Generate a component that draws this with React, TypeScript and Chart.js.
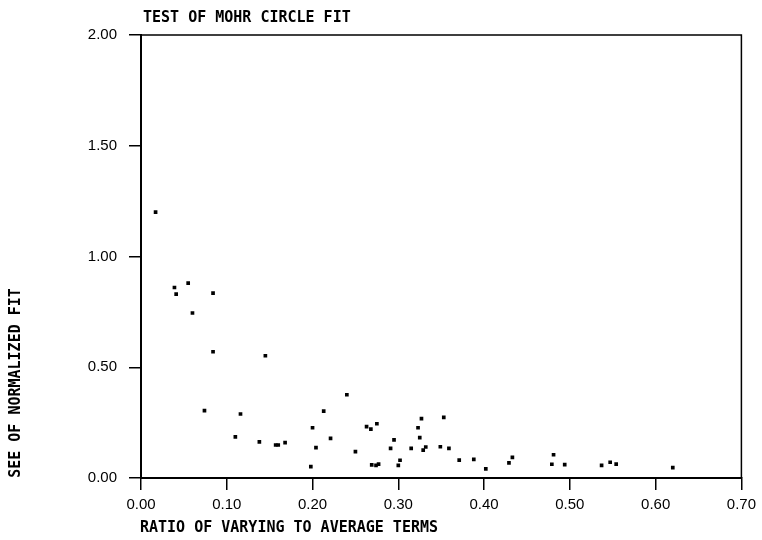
import React, { useEffect, useRef } from "react";
import { Chart, registerables } from "chart.js";

Chart.register(...registerables);

const chartTitle = "TEST OF MOHR CIRCLE FIT";
const xAxisTitle = "RATIO OF VARYING TO AVERAGE TERMS";
const yAxisTitle = "SEE OF NORMALIZED FIT";

const xTickLabels = ["0.00", "0.10", "0.20", "0.30", "0.40", "0.50", "0.60", "0.70"];
const yTickLabels = ["0.00", "0.50", "1.00", "1.50", "2.00"];

const xValues = [
  0.017, 0.039, 0.041, 0.055, 0.084, 0.060, 0.084, 0.145, 0.074, 0.116,
  0.110, 0.138, 0.157, 0.160, 0.168, 0.198, 0.200, 0.204, 0.213, 0.221,
  0.240, 0.250, 0.263, 0.268, 0.275, 0.269, 0.274, 0.277, 0.291, 0.295,
  0.300, 0.302, 0.315, 0.323, 0.327, 0.325, 0.329, 0.332, 0.353, 0.349,
  0.359, 0.371, 0.388, 0.402, 0.429, 0.433, 0.479, 0.481, 0.494, 0.537,
  0.547, 0.554, 0.620,
];
const yValues = [
  1.20, 0.86, 0.83, 0.88, 0.835, 0.745, 0.57, 0.552, 0.304, 0.289,
  0.186, 0.163, 0.149, 0.149, 0.160, 0.051, 0.227, 0.137, 0.302, 0.179,
  0.376, 0.119, 0.232, 0.221, 0.245, 0.059, 0.057, 0.063, 0.134, 0.172,
  0.057, 0.080, 0.134, 0.227, 0.268, 0.182, 0.126, 0.140, 0.274, 0.141,
  0.134, 0.081, 0.084, 0.041, 0.068, 0.093, 0.062, 0.105, 0.060, 0.057,
  0.071, 0.063, 0.047,
];

const titleFont = "bold 15px 'DejaVu Sans Mono'";
const tickFont = { family: "'Liberation Sans', Arial, sans-serif", size: 15 };

const textPlugin = {
  id: "customText",
  afterDraw(chart: any) {
    const { ctx, chartArea } = chart;
    ctx.save();
    ctx.strokeStyle = "#000";
    ctx.lineWidth = 1.5;
    ctx.beginPath();
    ctx.moveTo(chartArea.left, chartArea.top);
    ctx.lineTo(chartArea.right, chartArea.top);
    ctx.lineTo(chartArea.right, chartArea.bottom);
    ctx.stroke();

    ctx.fillStyle = "#000";
    ctx.font = titleFont;
    ctx.textBaseline = "middle";
    ctx.textAlign = "left";
    ctx.fillText(chartTitle, 143, 18.5);
    ctx.fillText(xAxisTitle, 140, 528.5);
    ctx.translate(16, 383);
    ctx.rotate(-Math.PI / 2);
    ctx.textAlign = "center";
    ctx.fillText(yAxisTitle, 0, 0);
    ctx.restore();
  },
};

export default function App() {
  const ref = useRef<HTMLCanvasElement>(null);

  useEffect(() => {
    if (!ref.current) return;
    const points = xValues.map((x, i) => ({ x, y: yValues[i] }));
    const chart = new Chart(ref.current, {
      type: "scatter",
      data: {
        datasets: [
          {
            data: points,
            pointStyle: "rect",
            pointRadius: 2.6,
            pointBorderWidth: 0,
            backgroundColor: "#000",
            borderColor: "#000",
          },
        ],
      },
      options: {
        animation: false,
        responsive: false,
        layout: { padding: { top: 35, right: 13, left: 0, bottom: 0 } },
        plugins: { legend: { display: false }, tooltip: { enabled: false }, title: { display: false } },
        scales: {
          x: {
            type: "linear",
            min: 0,
            max: 0.7,
            afterFit: (s: any) => { s.height = 62; },
            afterBuildTicks: (s: any) => {
              s.ticks = xTickLabels.map((_, i) => ({ value: i * 0.1 }));
            },
            ticks: {
              color: "#000",
              font: tickFont,
              padding: 6,
              maxRotation: 0,
              callback: (_v: any, i: number) => xTickLabels[i],
            },
            grid: {
              drawOnChartArea: false,
              drawTicks: true,
              tickLength: 12,
              color: "#000",
              lineWidth: 1.5,
            },
            border: { display: true, color: "#000", width: 2 },
          },
          y: {
            type: "linear",
            min: 0,
            max: 2,
            afterFit: (s: any) => { s.width = 141; },
            afterBuildTicks: (s: any) => {
              s.ticks = yTickLabels.map((_, i) => ({ value: i * 0.5 }));
            },
            ticks: {
              color: "#000",
              font: tickFont,
              padding: 12,
              callback: (_v: any, i: number) => yTickLabels[i],
            },
            grid: {
              drawOnChartArea: false,
              drawTicks: true,
              tickLength: 12,
              color: "#000",
              lineWidth: 1.5,
            },
            border: { display: true, color: "#000", width: 2 },
          },
        },
      },
      plugins: [textPlugin],
    });
    return () => chart.destroy();
  }, []);

  return (
    <div style={{ position: "fixed", left: 0, top: 0, width: 762, height: 540, background: "#fff" }}>
      <canvas ref={ref} width={762} height={540} style={{ width: 762, height: 540 }} />
    </div>
  );
}
